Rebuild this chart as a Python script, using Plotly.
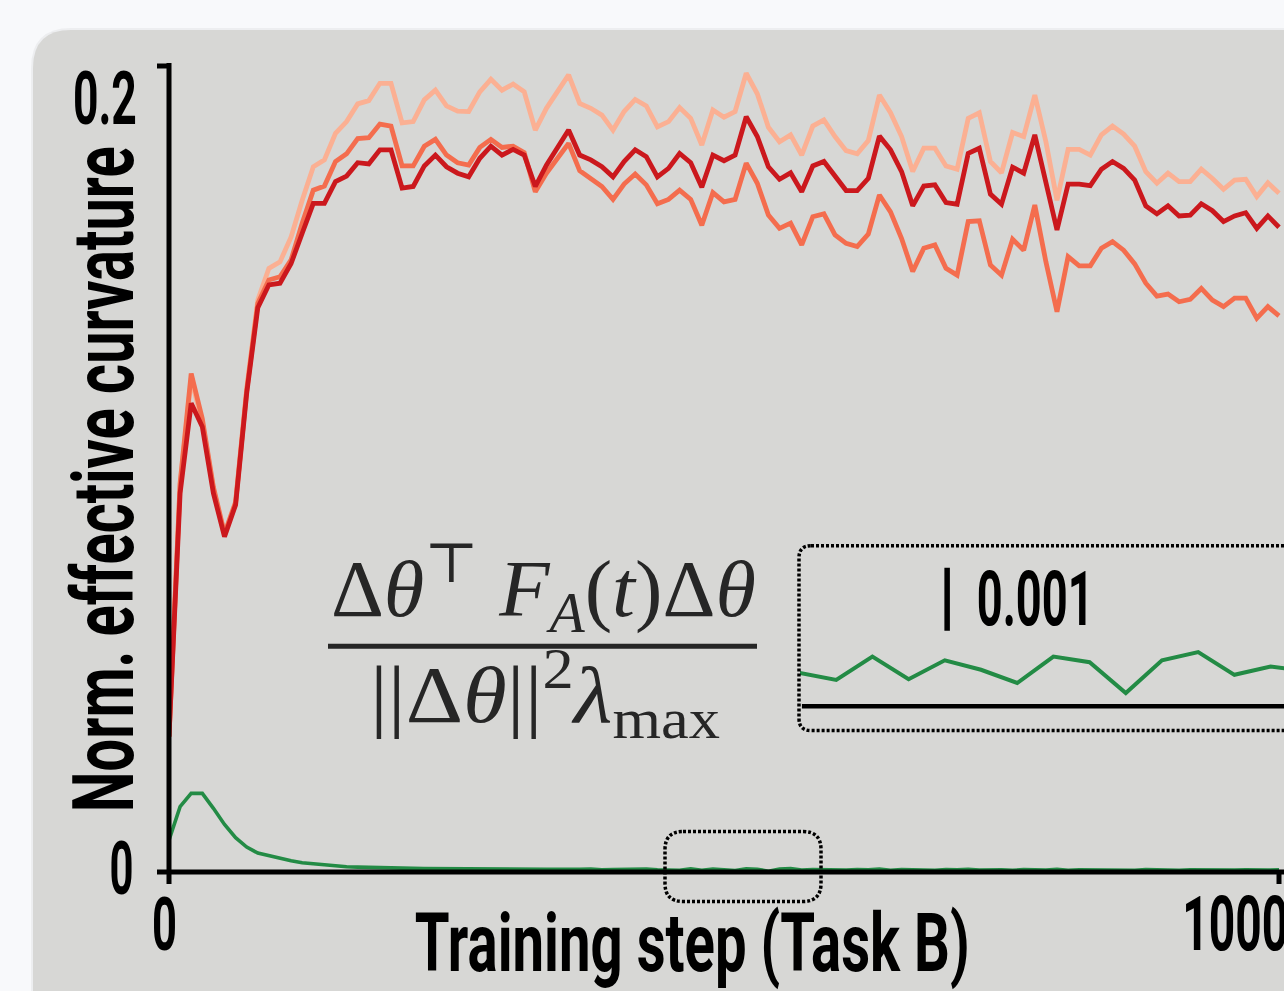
import json
import plotly.graph_objects as go

# ---------------- data ----------------
steps = list(range(0, 1001, 10))

curv_light = [
    0.0336, 0.0960, 0.1225, 0.1115, 0.0950, 0.0836, 0.0915, 0.1200, 0.1419, 0.1498,
    0.1514, 0.1576, 0.1667, 0.1750, 0.1767, 0.1833, 0.1862, 0.1906, 0.1914, 0.1957,
    0.1957, 0.1859, 0.1862, 0.1916, 0.1940, 0.1901, 0.1888, 0.1887, 0.1936, 0.1967,
    0.1940, 0.1955, 0.1936, 0.1841, 0.1895, 0.1934, 0.1978, 0.1907, 0.1895, 0.1878,
    0.1841, 0.1887, 0.1917, 0.1901, 0.1849, 0.1862, 0.1897, 0.1870, 0.1804, 0.1891,
    0.1873, 0.1887, 0.1982, 0.1931, 0.1848, 0.1812, 0.1829, 0.1779, 0.1851, 0.1866,
    0.1825, 0.1790, 0.1782, 0.1815, 0.1928, 0.1884, 0.1825, 0.1738, 0.1796, 0.1796,
    0.1752, 0.1744, 0.1870, 0.1884, 0.1763, 0.1735, 0.1835, 0.1825, 0.1928, 0.1812,
    0.1667, 0.1793, 0.1793, 0.1779, 0.1829, 0.1851, 0.1831, 0.1801, 0.1738, 0.1709,
    0.1734, 0.1713, 0.1713, 0.1744, 0.1721, 0.1694, 0.1717, 0.1719, 0.1676, 0.1710,
    0.1684,
]

curv_medium = [
    0.0336, 0.0965, 0.1237, 0.1125, 0.0955, 0.0840, 0.0918, 0.1195, 0.1411, 0.1469,
    0.1477, 0.1519, 0.1610, 0.1692, 0.1702, 0.1763, 0.1782, 0.1820, 0.1822, 0.1856,
    0.1851, 0.1752, 0.1752, 0.1801, 0.1818, 0.1779, 0.1760, 0.1754, 0.1798, 0.1818,
    0.1798, 0.1801, 0.1785, 0.1688, 0.1734, 0.1771, 0.1808, 0.1740, 0.1721, 0.1701,
    0.1669, 0.1707, 0.1732, 0.1705, 0.1658, 0.1669, 0.1692, 0.1669, 0.1605, 0.1686,
    0.1663, 0.1669, 0.1759, 0.1709, 0.1630, 0.1597, 0.1610, 0.1556, 0.1626, 0.1633,
    0.1581, 0.1560, 0.1552, 0.1583, 0.1680, 0.1638, 0.1572, 0.1490, 0.1548, 0.1556,
    0.1498, 0.1481, 0.1614, 0.1616, 0.1506, 0.1481, 0.1570, 0.1543, 0.1655, 0.1514,
    0.1390, 0.1527, 0.1504, 0.1504, 0.1548, 0.1564, 0.1543, 0.1509, 0.1461, 0.1429,
    0.1434, 0.1415, 0.1421, 0.1448, 0.1419, 0.1403, 0.1424, 0.1424, 0.1374, 0.1403,
    0.1380,
]

curv_dark = [
    0.0336, 0.0940, 0.1163, 0.1105, 0.0940, 0.0832, 0.0911, 0.1188, 0.1400, 0.1457,
    0.1461, 0.1510, 0.1585, 0.1659, 0.1659, 0.1713, 0.1727, 0.1760, 0.1757, 0.1792,
    0.1792, 0.1697, 0.1701, 0.1752, 0.1779, 0.1750, 0.1734, 0.1725, 0.1771, 0.1801,
    0.1779, 0.1793, 0.1779, 0.1701, 0.1754, 0.1800, 0.1841, 0.1779, 0.1767, 0.1750,
    0.1725, 0.1763, 0.1792, 0.1775, 0.1725, 0.1746, 0.1783, 0.1760, 0.1699, 0.1779,
    0.1765, 0.1779, 0.1874, 0.1825, 0.1750, 0.1719, 0.1735, 0.1688, 0.1752, 0.1763,
    0.1725, 0.1691, 0.1691, 0.1721, 0.1826, 0.1792, 0.1738, 0.1653, 0.1702, 0.1705,
    0.1661, 0.1657, 0.1783, 0.1796, 0.1682, 0.1657, 0.1749, 0.1734, 0.1829, 0.1713,
    0.1593, 0.1707, 0.1707, 0.1703, 0.1744, 0.1763, 0.1746, 0.1717, 0.1653, 0.1633,
    0.1653, 0.1628, 0.1630, 0.1658, 0.1641, 0.1614, 0.1628, 0.1636, 0.1597, 0.1628,
    0.1600,
]

curv_green = [
    0.0079, 0.0162, 0.0195, 0.0195, 0.0158, 0.0118, 0.0085, 0.0062, 0.0047, 0.0040,
    0.0033, 0.0028, 0.0023, 0.0020, 0.0017, 0.0015, 0.0013, 0.0012, 0.0011, 0.0011,
    0.0010, 0.00094, 0.00090, 0.00085, 0.00082, 0.00078, 0.00076,
    0.00072, 0.00068, 0.00075, 0.00066, 0.00070, 0.00061, 0.00072, 0.00064, 0.00069,
    0.00058, 0.00066, 0.00071, 0.00055, 0.00063, 0.00068, 0.00060, 0.00074, 0.00057,
    0.00053, 0.00042, 0.00079, 0.00043, 0.00073, 0.00058, 0.00037, 0.00079, 0.00070,
    0.00021, 0.00073, 0.00086, 0.00050, 0.00063,
    0.00056, 0.00066, 0.00048, 0.00061, 0.00052, 0.00070, 0.00045, 0.00058, 0.00064,
    0.00050, 0.00043, 0.00062, 0.00055, 0.00068, 0.00047, 0.00059, 0.00053, 0.00040,
    0.00061, 0.00057, 0.00049, 0.00065, 0.00044, 0.00056, 0.00052, 0.00060, 0.00046,
    0.00054, 0.00041, 0.00058, 0.00050, 0.00063, 0.00045, 0.00053, 0.00048, 0.00057,
    0.00043, 0.00051, 0.00055, 0.00046, 0.00049, 0.00052,
]

x_ticks = [0, 1000]
x_tick_labels = ["0", "1000"]
y_ticks = [0, 0.2]
y_tick_labels = ["0", "0.2"]
inset_range = [450, 583.7]
scale_bar_len = 0.001
scale_bar_label = "0.001"

x_title = "Training step (Task B)"
y_title = "Norm. effective curvature"
formula_num = "Δ<i>θ</i><sup>⊤</sup> <i>F</i><sub><i>A</i></sub>(<i>t</i>)Δ<i>θ</i>"
formula_den = "||Δ<i>θ</i>||<sup>2</sup><i>λ</i><sub>max</sub>"

for arr in (curv_light, curv_medium, curv_dark, curv_green):
    assert len(arr) == len(steps), len(arr)

# ---------------- geometry / style ----------------
W, H = 1284, 991
X0_PX, Y0_PX, YTOP_PX = 169, 872.5, 66       # pixel of x=0, y=0, y=0.2
L, R, T, B = X0_PX, 0, YTOP_PX, H - Y0_PX
PW, PH = W - L - R, H - T - B
XMAX = PW / 1.11  # x=1000 lands at ~1279 px


def px(x):
    return (x - L) / PW


def py(y):
    return (H - B - y) / PH


def rr_path(x0, y0, x1, y1, r):
    pts = [
        ("M", [(x0 + r, y0)]), ("L", [(x1 - r, y0)]), ("Q", [(x1, y0), (x1, y0 + r)]),
        ("L", [(x1, y1 - r)]), ("Q", [(x1, y1), (x1 - r, y1)]), ("L", [(x0 + r, y1)]),
        ("Q", [(x0, y1), (x0, y1 - r)]), ("L", [(x0, y0 + r)]), ("Q", [(x0, y0), (x0 + r, y0)]),
    ]
    s = ""
    for cmd, ps in pts:
        s += cmd + " " + " ".join(f"{px(a):.5f},{py(b):.5f}" for a, b in ps) + " "
    return s + "Z"


def pline(x0, y0, x1, y1, width, color="black"):
    return dict(type="line", xref="paper", yref="paper", layer="above",
                x0=px(x0), x1=px(x1), y0=py(y0), y1=py(y1),
                line=dict(color=color, width=width))


SANS = "Roboto, DejaVu Sans Condensed, sans-serif"
SERIF = "Liberation Serif, DejaVu Serif, serif"
C_LIGHT, C_MED, C_DARK, C_GREEN = "#fbb093", "#f46d4e", "#cb181d", "#238b45"
LW = 4.8

fig = go.Figure()
fig.add_trace(go.Scatter(x=steps, y=curv_light, mode="lines",
                         line=dict(color=C_LIGHT, width=LW), showlegend=False))
fig.add_trace(go.Scatter(x=steps, y=curv_medium, mode="lines",
                         line=dict(color=C_MED, width=LW), showlegend=False))
fig.add_trace(go.Scatter(x=steps, y=curv_dark, mode="lines",
                         line=dict(color=C_DARK, width=LW), showlegend=False))
fig.add_trace(go.Scatter(x=steps, y=curv_green, mode="lines",
                         line=dict(color=C_GREEN, width=3.6), showlegend=False))
# inset (zoomed green)
fig.add_trace(go.Scatter(x=steps, y=curv_green, mode="lines", xaxis="x2", yaxis="y2",
                         line=dict(color=C_GREEN, width=4), showlegend=False))

x1000_px = X0_PX + 1.11 * x_ticks[1]
shapes = [
    # card shadow + card
    dict(type="path", xref="paper", yref="paper", layer="below",
         path=rr_path(31, 28, 1340, 1050, 40), fillcolor="rgba(0,0,0,0.045)", line=dict(width=0)),
    dict(type="path", xref="paper", yref="paper", layer="below",
         path=rr_path(33, 30, 1340, 1050, 38), fillcolor="#d7d7d5", line=dict(width=0)),
    # axes (spines with end ticks)
    pline(X0_PX, Y0_PX + 12, X0_PX, YTOP_PX - 3, 5),          # y spine + x tick at 0
    pline(157, YTOP_PX, X0_PX + 2, YTOP_PX, 5),                # y tick at 0.2
    pline(157, Y0_PX, 1300, Y0_PX, 5),                         # x spine + y tick at 0
    pline(x1000_px, Y0_PX, x1000_px, Y0_PX + 12, 5),           # x tick at 1000
    # small dotted box on main axis
    dict(type="path", xref="paper", yref="paper", layer="above",
         path=rr_path(665, 832, 821, 902, 18),
         line=dict(color="black", width=3.5, dash="3px,2px")),
    # inset dotted box
    dict(type="path", xref="paper", yref="paper", layer="above",
         path=rr_path(799, 546, 1320, 731, 12),
         line=dict(color="black", width=3.5, dash="3px,2px")),
    # inset baseline at zero
    dict(type="line", xref="x2 domain", yref="y2", x0=0.004, x1=1, y0=0, y1=0,
         line=dict(color="black", width=4.5)),
    # scale bar
    dict(type="line", xref="x2 domain", yref="y2", x0=0.304, x1=0.304,
         y0=0.0012, y1=0.0012 + scale_bar_len, line=dict(color="black", width=5.5)),
    # fraction bar
    pline(328, 646.5, 757, 646.5, 5, "#262626"),
]


def sans_font(size):
    return dict(family=SANS, size=size, color="black", weight="bold")


# (annotation, target rendered width in px)
ann_specs = [
    (dict(text=y_tick_labels[1], xref="paper", yref="paper", x=px(105), y=py(98.5),
          font=sans_font(75)), 64),
    (dict(text=y_tick_labels[0], xref="paper", yref="paper", x=px(121.5), y=py(868.5),
          font=sans_font(75)), 24),
    (dict(text=x_tick_labels[0], xref="paper", yref="paper", x=px(164), y=py(925),
          font=sans_font(75)), 25),
    (dict(text=x_tick_labels[1], xref="paper", yref="paper", x=px(1235), y=py(925),
          font=sans_font(76)), 106),
    (dict(text=x_title, xref="paper", yref="paper", x=px(692.5), y=py(944),
          font=sans_font(82)), 555),
    (dict(text=y_title, xref="paper", yref="paper", x=px(104), y=py(480),
          textangle=-90, font=sans_font(86)), 666),
    (dict(text=scale_bar_label, xref="paper", yref="y2", x=px(1035), y=0.0012 + scale_bar_len / 2,
          font=sans_font(76)), 117),
    (dict(text=formula_num, xref="paper", yref="paper", x=px(543), y=py(588),
          font=dict(family=SERIF, size=80, color="#262626")), 425),
    (dict(text=formula_den, xref="paper", yref="paper", x=px(545), y=py(694),
          font=dict(family=SERIF, size=80, color="#262626")), 350),
]

annotations = []
targets = {}
for i, (a, w) in enumerate(ann_specs):
    a.setdefault("xanchor", "center")
    a.setdefault("yanchor", "middle")
    a["showarrow"] = False
    annotations.append(a)
    targets[str(i)] = w

hidden_axis = dict(showgrid=False, zeroline=False, showline=False, ticks="",
                   showticklabels=False)
fig.update_layout(
    width=W, height=H,
    margin=dict(l=L, r=R, t=T, b=B, pad=0),
    paper_bgcolor="#f8f9fb",
    plot_bgcolor="rgba(0,0,0,0)",
    font=dict(family=SANS, color="black"),
    showlegend=False,
    xaxis=dict(range=[0, XMAX], tickvals=x_ticks, **hidden_axis),
    yaxis=dict(range=[y_ticks[0], y_ticks[1]], tickvals=y_ticks, **hidden_axis),
    xaxis2=dict(domain=[px(800), 1], range=inset_range, anchor="y2", visible=False),
    yaxis2=dict(domain=[py(731), py(546)], range=[-(731 - 706.7) / 63000, (706.7 - 546) / 63000],
                anchor="x2", visible=False),
    shapes=shapes,
    annotations=annotations,
)

post = """
document.documentElement.style.margin='0';
document.body.style.margin='0';
document.body.style.overflow='hidden';
document.body.style.background='#f8f9fb';
var gd = document.getElementById('{plot_id}');
var targets = TARGETS;
gd.querySelectorAll('g.annotation').forEach(function(g){
  var idx = g.getAttribute('data-index');
  if (!(idx in targets)) return;
  var t = g.querySelector('text.annotation-text');
  if (!t) return;
  var w = t.getBBox().width;
  if (w > 0) {
    t.style.transformBox = 'fill-box';
    t.style.transformOrigin = 'center';
    t.style.transform = 'scaleX(' + (targets[idx] / w) + ')';
  }
});
""".replace("TARGETS", json.dumps(targets))

fig.write_html("out.html", post_script=post, config={"displayModeBar": False})
